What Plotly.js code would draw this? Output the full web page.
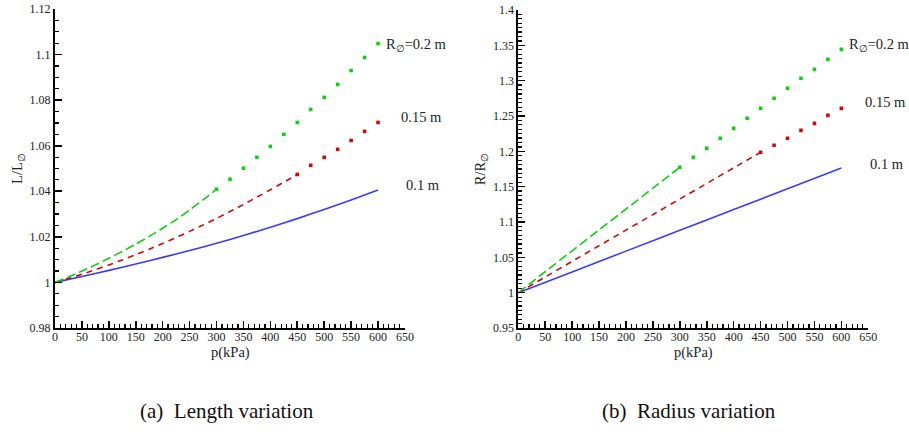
<!DOCTYPE html>
<html>
<head>
<meta charset="utf-8">
<script src="https://cdn.plot.ly/plotly-3.0.1.min.js"></script>
<style>html,body{margin:0;padding:0;background:#fff}#chart{width:909px;height:434px}</style>
</head>
<body>
<div id="chart"></div>
<script>
// ---------- data: (a) Length variation ----------
const pGreenDashL = [0,25,50,75,100,125,150,175,200,225,250,275,300];
const LGreenDash  = [1.0,1.0024,1.0050,1.0077,1.0106,1.0136,1.0168,1.0202,1.0238,1.0276,1.0318,1.0362,1.0409];
const pGreenMarkL = [300,325,350,375,400,425,450,475,500,525,550,575,600];
const LGreenMark  = [1.0409,1.0453,1.0501,1.0549,1.0597,1.0650,1.0702,1.0759,1.0812,1.0869,1.0930,1.0987,1.1048];

const pRedDashL = [0,25,50,75,100,125,150,175,200,225,250,275,300,325,350,375,400,425,450];
const LRedDash  = [1.0,1.0017,1.0036,1.0056,1.0077,1.0099,1.0122,1.0146,1.0171,1.0197,1.0224,1.0252,1.0281,1.0311,1.0342,1.0374,1.0407,1.0440,1.0474];
const pRedMarkL = [450,475,500,525,550,575,600];
const LRedMark  = [1.0474,1.0514,1.0549,1.0584,1.0623,1.0663,1.0702];

const pBlueL = [0,50,100,150,200,250,300,350,400,450,500,550,600];
const LBlue  = [1.0,1.0026,1.0053,1.0081,1.0110,1.0140,1.0172,1.0206,1.0242,1.0280,1.0320,1.0362,1.0406];

// ---------- data: (b) Radius variation ----------
const pGreenDashR = [0,50,100,150,200,250,300];
const RGreenDash  = [1.0,1.0297,1.0593,1.0888,1.1183,1.1478,1.1774];
const pGreenMarkR = [300,325,350,375,400,425,450,475,500,525,550,575,600];
const RGreenMark  = [1.1774,1.1915,1.2042,1.2184,1.2325,1.2467,1.2608,1.2750,1.2892,1.3033,1.3160,1.3302,1.3443];

const pRedDashR = [0,50,100,150,200,250,300,350,400,450];
const RRedDash  = [1.0,1.0222,1.0443,1.0664,1.0885,1.1105,1.1325,1.1545,1.1766,1.1986];
const pRedMarkR = [450,475,500,525,550,575,600];
const RRedMark  = [1.1986,1.2085,1.2184,1.2297,1.2396,1.2509,1.2608];

const pBlueR = [0,100,200,300,400,500,600];
const RBlue  = [1.0,1.0294,1.0588,1.0882,1.1176,1.1470,1.1764];

// ---------- tick labels ----------
const xTickVals = [0,50,100,150,200,250,300,350,400,450,500,550,600,650];
const xTickText = ['0','50','100','150','200','250','300','350','400','450','500','550','600','650'];
const yLTickVals = [0.98,1.0,1.02,1.04,1.06,1.08,1.1,1.12];
const yLTickText = ['0.98','1','1.02','1.04','1.06','1.08','1.1','1.12'];
const yRTickVals = [0.95,1.0,1.05,1.1,1.15,1.2,1.25,1.3,1.35,1.4];
const yRTickText = ['0.95','1','1.05','1.1','1.15','1.2','1.25','1.3','1.35','1.4'];

const seriesLabels = ['R<sub>\u2205</sub>=0.2 m','0.15 m','0.1 m'];
const captions = ['(a)\u00a0 Length variation','(b)\u00a0 Radius variation'];
const xTitle = 'p(kPa)';

const GREEN = '#14cc14', RED = '#cc0a0a', BLUE = '#3a3aff';
const FONT = 'Liberation Serif';
const H = 434, W = 909;

function dashTrace(x, y, color, dash, xa, ya) {
  return {x, y, xaxis: xa, yaxis: ya, mode: 'lines', type: 'scatter',
    line: {color, width: 1.6, dash, shape: 'spline', smoothing: 0.6}, hoverinfo: 'skip', showlegend: false};
}
function markTrace(x, y, color, xa, ya) {
  return {x, y, xaxis: xa, yaxis: ya, mode: 'markers', type: 'scatter',
    marker: {color, size: 3.6, symbol: 'square', line: {width: 0}}, hoverinfo: 'skip', showlegend: false};
}

const traces = [
  dashTrace(pBlueL, LBlue, BLUE, 'solid', 'x', 'y'),
  dashTrace(pRedDashL, LRedDash, RED, '6px,5px', 'x', 'y'),
  markTrace(pRedMarkL, LRedMark, RED, 'x', 'y'),
  dashTrace(pGreenDashL, LGreenDash, GREEN, '9px,4px', 'x', 'y'),
  markTrace(pGreenMarkL, LGreenMark, GREEN, 'x', 'y'),
  dashTrace(pBlueR, RBlue, BLUE, 'solid', 'x2', 'y2'),
  dashTrace(pRedDashR, RRedDash, RED, '6px,5px', 'x2', 'y2'),
  markTrace(pRedMarkR, RRedMark, RED, 'x2', 'y2'),
  dashTrace(pGreenDashR, RGreenDash, GREEN, '9px,4px', 'x2', 'y2'),
  markTrace(pGreenMarkR, RGreenMark, GREEN, 'x2', 'y2')
];

function xAxis(domain, anchor) {
  return {domain, anchor, range: [0, 650], showline: true, linewidth: 2, linecolor: '#000',
    ticks: 'inside', ticklen: 7, tickwidth: 1.6, tickcolor: '#000',
    tickmode: 'array', tickvals: xTickVals, ticktext: xTickText, ticklabelstandoff: -3,
    minor: {tickmode: 'linear', tick0: 0, dtick: 10, ticks: 'inside', ticklen: 4, tickwidth: 1.2, tickcolor: '#000', showgrid: false},
    showgrid: false, zeroline: false, mirror: false,
    tickfont: {family: FONT, size: 12, color: '#222'}};
}
function yAxis(domain, anchor, range, vals, text, minorStep, title) {
  return {domain, anchor, range, showline: true, linewidth: 2, linecolor: '#000',
    ticks: 'inside', ticklen: 7, tickwidth: 1.6, tickcolor: '#000',
    tickmode: 'array', tickvals: vals, ticktext: text,
    minor: {tickmode: 'linear', tick0: range[0], dtick: minorStep, ticks: 'inside', ticklen: 4, tickwidth: 1.2, tickcolor: '#000', showgrid: false},
    showgrid: false, zeroline: false,
    tickfont: {family: FONT, size: 12, color: '#222'},
    title: {text: title, font: {family: FONT, size: 14.5, color: '#222'}, standoff: 4}};
}

// text positions in pixels
function lab(text, px, py, size, xanchor) {
  return {xref: 'paper', yref: 'paper', x: px / W, y: 1 - py / H, text, showarrow: false,
    xanchor: xanchor || 'left', yanchor: 'middle', font: {family: FONT, size, color: '#222'}};
}

const layout = {
  width: W, height: H,
  margin: {l: 0, r: 0, t: 0, b: 0},
  paper_bgcolor: '#fff', plot_bgcolor: '#fff',
  font: {family: FONT, color: '#222'},
  xaxis: xAxis([0.0605, 0.4455], 'y'),
  yaxis: yAxis([0.2442, 0.9793], 'x', [0.98, 1.12], yLTickVals, yLTickText, 0.005, 'L/L<sub>\u2205</sub>'),
  xaxis2: xAxis([0.5702, 0.9552], 'y2'),
  yaxis2: yAxis([0.2442, 0.977], 'x2', [0.95, 1.4], yRTickVals, yRTickText, 0.00625, 'R/R<sub>\u2205</sub>'),
  annotations: [
    lab(seriesLabels[0], 384, 45, 14.5),
    lab(seriesLabels[1], 399, 117, 14.5),
    lab(seriesLabels[2], 404, 185, 14.5),
    lab(seriesLabels[0], 847, 45, 14.5),
    lab(seriesLabels[1], 863, 102, 14.5),
    lab(seriesLabels[2], 868, 164, 14.5),
    lab(xTitle, 230, 352, 14.5, 'center'),
    lab(xTitle, 693, 352, 14.5, 'center'),
    Object.assign(lab(captions[0], 227, 411, 21, 'center'), {font: {family: FONT, size: 21, color: '#111'}}),
    Object.assign(lab(captions[1], 689, 411, 21, 'center'), {font: {family: FONT, size: 21, color: '#111'}})
  ]
};

Plotly.newPlot('chart', traces, layout, {displayModeBar: false, staticPlot: true});
</script>
</body>
</html>
